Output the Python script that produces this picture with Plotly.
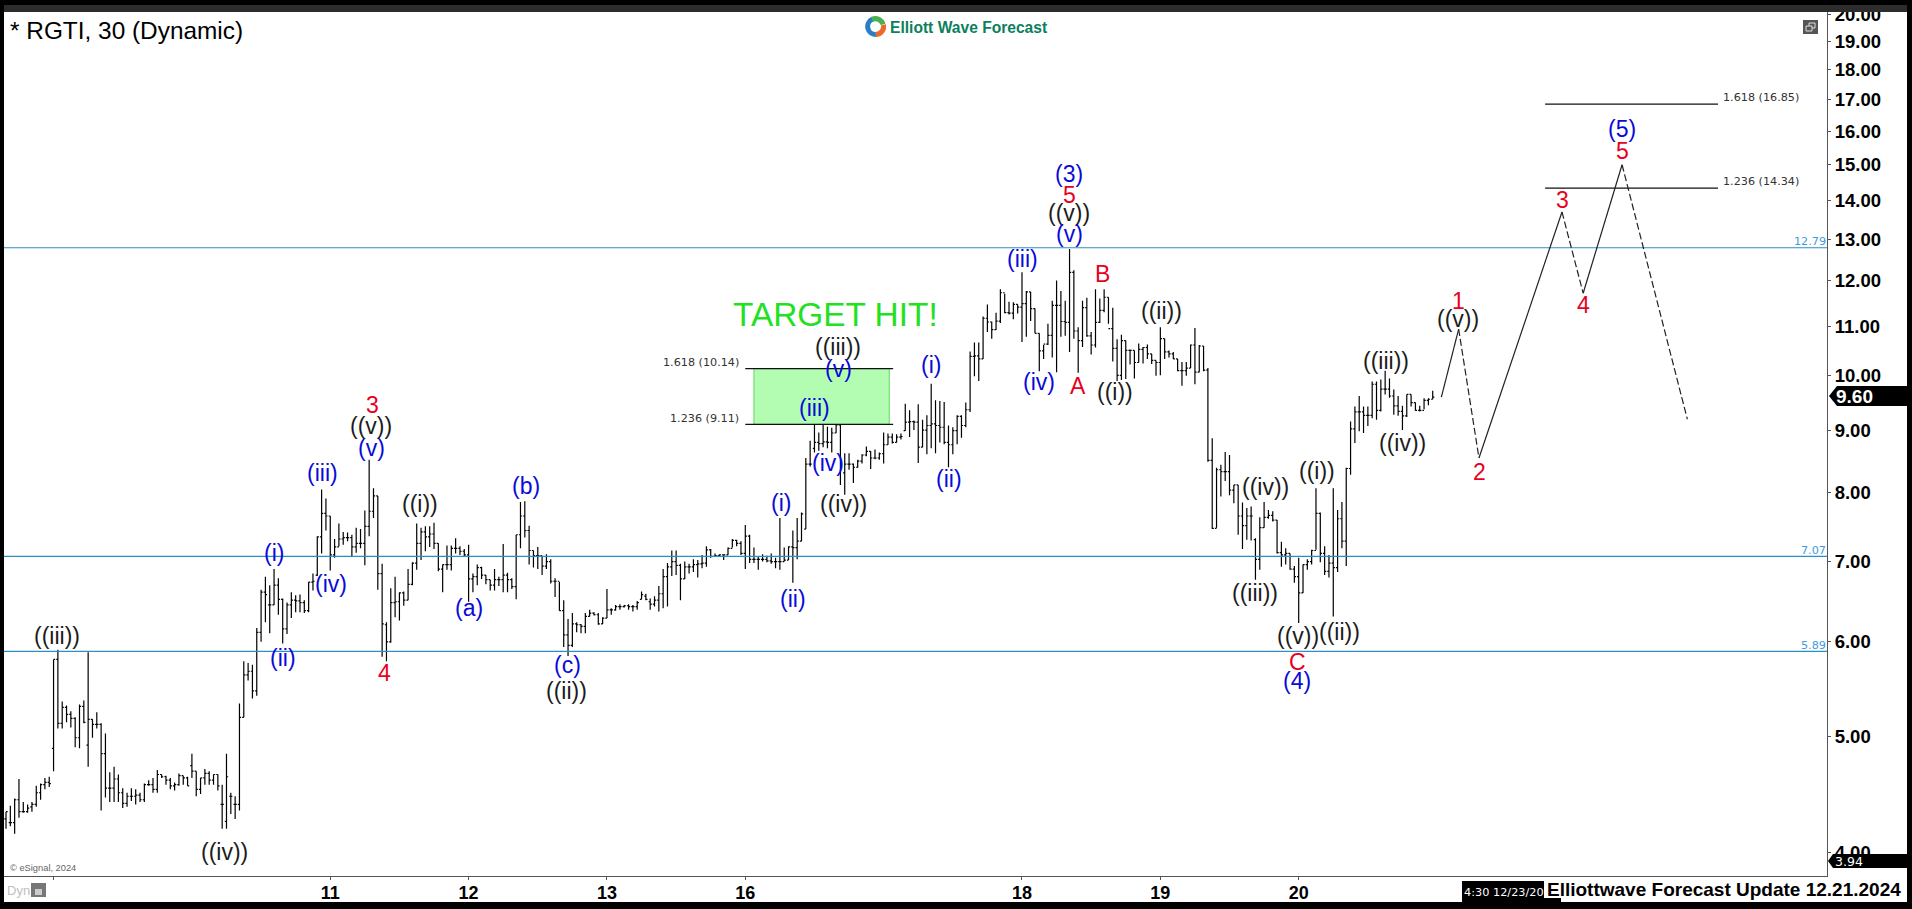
import base64
import plotly.graph_objects as go

# ---------- price bars (30 minute bars) ----------
bar_open = [
4.27,4.24,4.24,4.43,4.33,4.33,4.37,4.39,4.49,4.56,
4.58,4.89,5.80,5.13,5.29,5.22,5.18,4.99,5.30,4.92,
5.17,5.12,5.12,4.84,4.53,4.53,4.61,4.49,4.40,4.46,
4.46,4.47,4.43,4.56,4.56,4.52,4.65,4.63,4.60,4.55,
4.56,4.64,4.62,4.73,4.68,4.52,4.62,4.66,4.60,4.65,
4.39,4.25,4.46,4.39,4.39,5.19,5.63,5.67,5.46,
6.11,6.60,6.44,6.44,6.69,6.51,6.15,6.44,6.50,6.49,
6.47,6.37,6.73,6.82,7.34,7.68,7.64,7.09,7.20,7.31,
7.33,7.33,7.20,7.25,7.25,7.49,7.71,7.94,6.84,6.20,
6.00,6.47,6.48,6.59,6.50,6.70,6.98,7.25,7.41,7.34,
7.38,7.25,6.90,6.96,6.96,7.18,7.18,7.14,7.09,6.77,
6.80,6.92,6.82,6.76,6.69,6.76,6.76,6.82,6.76,6.67,
7.37,7.64,7.43,7.15,7.08,7.08,6.94,7.00,6.74,6.74,
6.37,6.08,5.96,6.21,
6.20,6.18,6.30,6.34,6.32,6.21,6.28,6.38,6.38,6.42,6.42,6.43,6.42,6.42,
6.51,6.55,6.48,6.45,6.50,6.58,6.80,6.93,7.00,6.95,
6.77,6.93,6.93,6.96,6.97,6.98,7.16,7.07,7.08,7.09,
7.09,7.18,7.29,7.25,7.11,7.35,7.03,7.03,7.03,7.03,
7.01,7.00,7.00,7.00,7.02,7.20,7.19,7.28,7.45,8.44,
8.70,8.80,8.78,8.81,8.80,8.96,9.10,8.30,8.44,8.44,
8.39,8.49,8.59,8.65,8.54,8.54,8.61,8.76,8.89,8.80,8.89,
9.00,9.15,9.16,9.15,8.72,9.01,9.09,9.12,9.09,9.06,
8.80,8.76,9.00,9.25,9.09,9.37,10.38,10.39,10.33,11.17,
11.09,10.93,11.11,11.73,11.29,11.28,11.47,11.41,11.49,11.75,
11.38,10.85,10.49,10.63,10.81,11.45,11.45,11.10,11.08,12.20,
10.90,10.70,11.40,10.80,10.61,11.08,11.34,11.63,10.95,10.54,
10.01,10.70,10.50,10.50,10.26,10.52,10.56,10.43,10.30,10.26,
10.74,10.47,10.43,10.33,10.10,10.10,10.15,10.61,10.07,10.59,10.11,
8.50,7.46,8.35,8.32,8.32,8.03,8.11,7.64,7.50,7.64,
7.30,7.03,7.47,7.62,7.65,7.58,7.12,7.09,7.11,6.90,
6.80,6.59,6.96,7.00,7.15,7.68,7.11,6.87,6.98,6.92,
7.60,7.28,8.37,9.03,9.33,9.33,9.27,9.27,9.84,9.36,
9.75,9.75,9.62,9.44,9.34,9.26,9.65,9.50,9.36,9.36,9.54,9.56,
]
bar_high = [
4.33,4.38,4.44,4.61,4.41,4.39,4.41,4.55,4.57,4.62,
4.63,5.80,5.91,5.35,5.31,5.25,5.19,5.32,5.36,5.88,
5.17,5.24,5.13,5.03,4.67,4.72,4.65,4.53,4.49,4.53,
4.52,4.49,4.57,4.60,4.62,4.69,4.65,4.64,4.62,4.58,
4.66,4.64,4.63,4.84,4.68,4.62,4.70,4.68,4.65,4.65,
4.56,4.84,4.49,4.46,5.33,5.78,5.76,5.74,6.16,
6.63,6.80,6.69,6.90,6.78,6.52,6.47,6.60,6.56,6.57,
6.50,6.73,6.84,7.35,8.04,7.90,7.64,7.31,7.53,7.41,
7.40,7.37,7.47,7.45,7.72,8.51,8.06,7.94,6.97,6.23,
6.65,6.80,6.60,6.61,6.90,6.99,7.53,7.47,7.49,7.49,
7.54,7.25,6.96,7.22,7.22,7.32,7.21,7.17,7.23,6.84,
6.96,6.93,6.82,6.76,6.90,6.80,7.24,6.85,6.78,7.37,
7.85,7.86,7.50,7.15,7.20,7.08,7.10,7.03,6.78,6.73,
6.50,6.27,6.34,6.23,
6.21,6.34,6.38,6.35,6.34,6.29,6.64,6.40,6.44,6.45,6.44,6.45,6.44,6.49,
6.61,6.58,6.52,6.55,6.68,6.90,6.98,7.15,7.15,6.97,
7.00,6.97,7.03,7.02,7.09,7.21,7.17,7.11,7.10,7.10,
7.19,7.31,7.30,7.28,7.51,7.37,7.19,7.06,7.10,7.08,
7.11,7.05,7.61,7.19,7.21,7.43,7.61,7.69,8.54,8.83,
9.14,8.97,9.16,9.07,9.05,9.86,9.76,8.62,8.62,8.45,
8.51,8.60,8.73,8.65,8.68,8.63,8.97,8.95,8.95,8.94,8.95,
9.48,9.36,9.18,9.47,9.19,9.27,9.85,9.54,9.53,9.51,
9.09,9.06,9.27,9.27,9.50,10.48,10.66,10.66,11.21,11.47,
11.10,11.29,11.81,11.71,11.53,11.52,11.47,12.20,11.77,11.75,
11.38,10.85,10.61,11.05,11.55,12.01,11.77,11.55,12.76,12.25,
10.98,11.55,11.62,10.88,11.81,11.60,11.81,11.63,11.40,10.73,
10.82,10.70,10.52,10.50,10.64,10.57,10.62,10.43,10.30,10.98,
10.74,10.50,10.47,10.33,10.27,10.27,10.62,10.96,10.61,10.59,10.15,
8.87,8.38,8.43,8.64,8.59,8.11,8.11,7.84,7.76,7.78,
7.32,7.62,7.85,7.73,7.71,7.58,7.27,7.18,7.11,6.94,
7.05,6.96,7.03,7.16,8.06,7.69,7.21,7.09,8.06,7.73,
7.85,8.38,9.16,9.43,9.62,9.43,9.43,9.89,9.89,9.93,
10.10,9.95,9.74,9.62,9.44,9.65,9.65,9.50,9.44,9.58,9.58,9.72,
]
bar_low = [
4.19,4.21,4.15,4.28,4.32,4.32,4.33,4.37,4.43,4.52,
4.54,4.68,5.08,5.08,5.14,5.09,4.90,4.89,5.13,4.72,
4.99,5.08,4.34,4.45,4.41,4.41,4.41,4.36,4.37,4.42,
4.39,4.41,4.41,4.55,4.49,4.49,4.62,4.56,4.52,4.51,
4.55,4.56,4.55,4.62,4.46,4.48,4.56,4.56,4.56,4.51,
4.19,4.19,4.31,4.27,4.34,5.19,5.57,5.38,5.41,
6.00,6.23,6.10,6.44,6.32,5.98,6.09,6.28,6.35,6.35,
6.34,6.35,6.62,6.81,7.11,7.43,6.88,7.05,7.21,7.23,
7.28,7.06,7.12,7.18,6.95,7.35,7.61,6.63,5.83,5.78,
5.99,6.29,6.25,6.43,6.50,6.69,6.89,7.02,7.14,7.20,
7.17,6.87,6.60,6.89,6.88,7.11,7.09,7.06,6.48,6.60,
6.69,6.77,6.70,6.62,6.62,6.68,6.60,6.60,6.64,6.51,
7.18,7.33,6.96,6.92,6.90,6.82,6.90,6.71,6.54,6.37,
5.94,5.84,5.94,6.11,
6.10,6.10,6.30,6.31,6.20,6.21,6.28,6.32,6.37,6.38,6.41,6.38,6.36,6.38,
6.51,6.50,6.38,6.42,6.36,6.40,6.42,6.81,6.82,6.50,
6.77,6.84,6.86,6.79,6.91,6.93,7.05,7.06,7.07,7.02,
7.09,7.19,7.21,7.09,6.90,6.98,6.98,6.89,7.00,6.99,
6.97,6.91,6.89,7.00,7.02,6.72,7.03,7.28,7.45,8.40,
8.63,8.66,8.72,8.70,8.63,8.96,8.11,7.96,8.35,8.14,
8.38,8.45,8.57,8.36,8.52,8.51,8.45,8.76,8.78,8.80,8.85,
9.00,8.89,9.01,8.46,8.72,8.60,8.70,8.62,8.80,8.77,
8.39,8.60,8.77,8.88,9.06,9.33,9.99,9.90,10.33,10.88,
10.74,10.92,11.07,11.28,11.25,11.15,11.27,10.67,10.78,11.11,
10.85,10.09,10.33,10.61,10.36,10.07,10.78,10.80,10.47,10.74,
10.06,10.57,10.78,10.42,10.56,11.07,11.30,11.05,10.28,9.90,
9.92,9.94,10.22,9.95,10.26,10.24,10.33,10.23,10.00,10.01,
10.33,10.36,10.33,10.09,9.81,10.00,10.15,9.84,10.07,10.09,8.48,
7.45,7.47,7.93,8.17,7.95,7.83,7.37,7.17,7.30,7.29,
6.76,6.89,7.47,7.60,7.56,7.11,6.93,6.96,6.89,6.72,
6.22,6.59,6.89,6.96,7.16,6.99,6.82,6.79,6.30,6.86,
7.18,6.94,8.27,8.79,8.99,8.96,9.08,9.22,9.19,9.34,
9.65,9.59,9.28,9.26,9.01,9.24,9.43,9.35,9.34,9.38,9.45,9.56,
]
bar_close = [
4.33,4.24,4.43,4.33,4.33,4.36,4.39,4.49,4.56,4.58,
4.57,5.80,5.13,5.29,5.22,5.18,4.99,5.30,5.14,5.17,
5.12,5.12,4.84,4.53,4.53,4.61,4.49,4.40,4.46,4.46,
4.47,4.43,4.56,4.56,4.52,4.65,4.63,4.60,4.55,4.56,
4.64,4.62,4.55,4.68,4.52,4.62,4.66,4.60,4.65,4.55,
4.39,4.63,4.46,4.39,5.19,5.63,5.67,5.46,6.11,
6.60,6.57,6.44,6.69,6.51,6.15,6.44,6.50,6.49,6.47,
6.37,6.73,6.74,7.34,7.68,7.64,7.09,7.20,7.31,7.33,
7.33,7.20,7.25,7.25,7.49,7.71,7.94,6.84,6.21,6.00,
6.47,6.48,6.59,6.50,6.70,6.98,7.25,7.41,7.34,7.38,
7.25,6.90,6.96,6.96,7.18,7.18,7.14,7.09,6.77,6.80,
6.92,6.82,6.76,6.69,6.76,6.76,6.82,6.76,6.67,7.37,
7.64,7.43,7.15,7.08,7.08,6.94,7.00,6.74,6.74,6.37,
6.08,5.96,6.21,6.20,
6.18,6.30,6.34,6.32,6.21,6.28,6.38,6.38,6.42,6.42,6.43,6.42,6.42,6.47,
6.57,6.51,6.45,6.50,6.58,6.80,6.93,7.00,6.95,6.77,
6.93,6.93,6.96,6.97,6.98,7.16,7.07,7.08,7.09,7.09,
7.18,7.29,7.25,7.11,7.35,7.03,7.03,7.03,7.03,7.01,
7.00,7.00,7.00,7.02,7.20,7.19,7.28,7.67,8.44,8.44,
8.80,8.78,8.81,8.80,8.96,9.10,8.40,8.44,8.44,8.39,
8.49,8.59,8.65,8.54,8.54,8.61,8.76,8.89,8.80,8.89,8.90,
9.15,9.16,9.15,8.72,9.01,9.09,9.12,9.09,9.06,8.80,
8.76,9.00,9.25,9.09,9.37,10.38,10.39,10.33,11.17,11.09,
10.93,11.11,11.73,11.29,11.28,11.47,11.41,11.49,11.75,11.38,
10.85,10.49,10.63,10.81,11.45,11.45,11.10,11.08,12.20,10.90,
10.70,11.40,10.80,10.61,11.08,11.34,11.63,10.95,10.54,10.01,
10.70,10.50,10.50,10.26,10.52,10.56,10.43,10.30,10.26,10.74,
10.47,10.43,10.33,10.10,10.10,10.15,10.61,10.07,10.59,10.11,8.50,
7.46,8.35,8.32,8.32,8.03,8.11,7.64,7.50,7.64,7.64,
7.03,7.47,7.62,7.65,7.58,7.12,7.09,7.11,6.90,6.80,
6.59,6.96,7.00,7.15,7.68,7.11,6.87,6.98,6.92,7.60,
7.28,8.37,9.03,9.33,9.33,9.27,9.27,9.84,9.36,9.75,
9.75,9.62,9.44,9.34,9.26,9.65,9.50,9.36,9.36,9.54,9.56,9.60,
]
assert len(bar_open) == len(bar_high) == len(bar_low) == len(bar_close) == 331
bar_index = list(range(1, len(bar_open) + 1))

# ---------- levels and projections ----------
level_prices = [12.79, 7.07, 5.89]
level_labels = ["12.79", "7.07", "5.89"]
fib_box_low, fib_box_high = 9.11, 10.14
fib_future = [14.34, 16.85]
wave_x = [333, 337, 341.7, 360.9, 365.8, 374.8, 389.9]
wave_y = [9.60, 10.94, 8.54, 13.70, 11.72, 15.00, 9.20]

day_ticks = [12, 76, 108, 140, 172, 236, 268, 300]
day_labels = ["", "11", "12", "13", "16", "18", "19", "20"]
price_ticks = [4, 5, 6, 7, 8, 9, 10, 11, 12, 13, 14, 15, 16, 17, 18, 19, 20]
price_labels = [f"{p}.00" for p in price_ticks]

BLACK, BLUE, RED = "#1c1c1c", "#0a0ad8", "#e8001c"
wave_labels = [
    ("((iii))", 57, 636, BLACK), ("((iv))", 224, 852, BLACK), ("(i)", 274, 553, BLUE),
    ("(ii)", 283, 658, BLUE), ("(iii)", 322, 473, BLUE), ("(iv)", 331, 584, BLUE),
    ("(v)", 371, 448, BLUE), ("((v))", 371, 426, BLACK), ("3", 372, 405, RED),
    ("4", 384, 673, RED), ("((i))", 420, 504, BLACK), ("(a)", 469, 608, BLUE),
    ("(b)", 526, 486, BLUE), ("(c)", 567, 665, BLUE), ("((ii))", 566, 691, BLACK),
    ("(i)", 781, 503, BLUE), ("(ii)", 793, 599, BLUE), ("((iii))", 838, 347, BLACK),
    ("(v)", 838, 369, BLUE), ("(iii)", 814, 408, BLUE), ("(iv)", 828, 463, BLUE),
    ("((iv))", 843, 504, BLACK), ("(i)", 931, 365, BLUE), ("(ii)", 949, 479, BLUE),
    ("(iii)", 1022, 259, BLUE), ("(iv)", 1039, 382, BLUE), ("(3)", 1069, 174, BLUE),
    ("5", 1069, 195, RED), ("((v))", 1069, 213, BLACK), ("(v)", 1069, 234, BLUE),
    ("B", 1102, 274, RED), ("A", 1078, 386, RED), ("((i))", 1115, 392, BLACK),
    ("((ii))", 1161, 311, BLACK), ("((iv))", 1265, 487, BLACK), ("((iii))", 1255, 593, BLACK),
    ("((v))", 1298, 636, BLACK), ("C", 1297, 662, RED), ("(4)", 1297, 681, BLUE),
    ("((ii))", 1339, 632, BLACK), ("((i))", 1317, 471, BLACK), ("((iii))", 1386, 361, BLACK),
    ("((iv))", 1402, 443, BLACK), ("1", 1458, 301, RED), ("((v))", 1458, 319, BLACK),
    ("2", 1479, 472, RED), ("(5)", 1622, 129, BLUE), ("5", 1622, 151, RED),
    ("3", 1562, 200, RED), ("4", 1583, 305, RED),
]

# ---------- page geometry ----------
W, H = 1912, 909
LEFT, RIGHT, TOP, BOTTOM = 4, 1827, 12, 876
PW, PH = RIGHT - LEFT, BOTTOM - TOP
px = lambda x: (x - LEFT) / PW
py = lambda y: (BOTTOM - y) / PH
ARIAL = "Liberation Sans"
SMALL = "DejaVu Sans"

fig = go.Figure()

# fib box and lines
fig.add_trace(go.Scatter(x=[174, 174, 205.3, 205.3, 174],
                         y=[fib_box_low, fib_box_high, fib_box_high, fib_box_low, fib_box_low],
                         mode="lines", fill="toself", fillcolor="#b2fdb2",
                         line=dict(color="#63d863", width=1), hoverinfo="skip"))
for p in (fib_box_low, fib_box_high):
    fig.add_trace(go.Scatter(x=[172, 206.2], y=[p, p], mode="lines", hoverinfo="skip",
                             line=dict(color="#111111", width=1.2)))
for p in fib_future:
    fig.add_trace(go.Scatter(x=[357, 397], y=[p, p], mode="lines", hoverinfo="skip",
                             line=dict(color="#111111", width=1.2)))
# horizontal levels
for p in level_prices:
    fig.add_trace(go.Scatter(x=[0.5, 422.2], y=[p, p], mode="lines", hoverinfo="skip",
                             line=dict(color="#2b8fc6", width=1.2)))
# the bars
fig.add_trace(go.Ohlc(x=bar_index, open=bar_open, high=bar_high, low=bar_low, close=bar_close,
                      increasing_line_color="#000000", decreasing_line_color="#000000",
                      line_width=1.2, tickwidth=0.38, hoverinfo="skip"))
# forecast path: odd legs solid, even legs dashed
for i in range(len(wave_x) - 1):
    fig.add_trace(go.Scatter(x=wave_x[i:i + 2], y=wave_y[i:i + 2], mode="lines", hoverinfo="skip",
                             line=dict(color="#222222", width=1.2, dash="solid" if i % 2 == 0 else "7px,3px")))

ann = []
def text(t, x, y, size, color, font=ARIAL, xa="center", bold=False):
    ann.append(dict(text=f"<b>{t}</b>" if bold else t, x=px(x), y=py(y), xref="paper", yref="paper",
                    xanchor=xa, yanchor="middle", showarrow=False, borderpad=0,
                    font=dict(family=font, size=size, color=color)))

for t, x, y, c in wave_labels:
    text(t, x, y, 23, c)
text("* RGTI, 30 (Dynamic)", 9, 30, 24.4, "#000000", xa="left")
text("TARGET HIT!", 835, 314, 33.4, "#22e022")
text("1.618 (10.14)", 740, 362, 11.2, "#333333", SMALL, "right")
text("1.236 (9.11)", 740, 418, 11.2, "#333333", SMALL, "right")
text("1.618 (16.85)", 1722, 97, 11.2, "#333333", SMALL, "left")
text("1.236 (14.34)", 1722, 181, 11.2, "#333333", SMALL, "left")
for lab, y in zip(level_labels, (241, 550, 645)):
    text(lab, 1827, y, 11.2, "#3d9be0", SMALL, "right")
text("Elliott Wave Forecast", 889, 27, 15.6, "#0c7f5e", ARIAL, "left", True)
text("© eSignal, 2024", 9, 868, 9.3, "#666666", ARIAL, "left")
text("Dyn", 6, 890, 13, "#c0c0c0", ARIAL, "left")
text("9.60", 1835, 396, 19, "#ffffff", ARIAL, "left", True)
text("3.94", 1834, 861.5, 12.5, "#ffffff", SMALL, "left")
text("4:30 12/23/20", 1463, 892, 11.3, "#ffffff", SMALL, "left")
text("Elliottwave Forecast Update 12.21.2024", 1546, 889, 19, "#000000", ARIAL, "left", True)

def rect(x0, y0, x1, y1, fill, line=None):
    return dict(type="rect", xref="paper", yref="paper", x0=px(x0), x1=px(x1), y0=py(y0), y1=py(y1),
                fillcolor=fill, line=dict(color=line or fill, width=1 if line else 0), layer="above")

def poly(pts, fill):
    d = "M " + " L ".join(f"{px(a)} {py(b)}" for a, b in pts) + " Z"
    return dict(type="path", xref="paper", yref="paper", path=d, fillcolor=fill,
                line=dict(width=0), layer="above")

shapes = [
    rect(0, 0, W, 5, "#000000"), rect(0, 5, W, 12, "#2c2c2c"),
    rect(0, 0, 4, H, "#000000"), rect(0, 902, W, H, "#000000"), rect(1907, 0, W, H, "#000000"),
    poly([(1829, 396), (1837, 386), (1907, 386), (1907, 406), (1837, 406)], "#000000"),
    poly([(1828, 861), (1833, 854), (1907, 854), (1907, 868), (1833, 868)], "#000000"),
    rect(1462, 881, 1544, 902, "#000000"), rect(1544, 898, 1561, 902, "#000000"),
    rect(1803, 20, 1818, 34, "#555555"),
    rect(1809, 23, 1815, 28, "#555555", "#dddddd"), rect(1806, 26, 1812, 31, "#555555", "#dddddd"),
    rect(31, 883, 46, 897, "#777777"), rect(35, 889, 42, 895, "#cccccc"),
]

logo = ('<svg xmlns="http://www.w3.org/2000/svg" viewBox="0 0 100 100" fill="none" stroke-width="24">'
        '<path d="M 36 15 A 38 38 0 0 0 52 88" stroke="#2a7fc4"/>'
        '<path d="M 34 16 A 38 38 0 0 1 86 40" stroke="#4bb04f"/>'
        '<path d="M 88 42 A 38 38 0 0 1 52 88" stroke="#ec6a2c"/></svg>')
logo_uri = "data:image/svg+xml;base64," + base64.b64encode(logo.encode()).decode()

fig.update_layout(
    width=W, height=H, autosize=False, showlegend=False,
    paper_bgcolor="#ffffff", plot_bgcolor="#ffffff",
    margin=dict(l=LEFT, r=W - RIGHT, t=TOP, b=H - BOTTOM, pad=0),
    hovermode=False, annotations=ann, shapes=shapes,
    images=[dict(source=logo_uri, xref="paper", yref="paper", x=px(865), y=py(16),
                 sizex=21 / PW, sizey=21 / PH, xanchor="left", yanchor="top",
                 sizing="stretch", layer="above")],
    xaxis=dict(range=[0.537, 422.2], tickmode="array", tickvals=day_ticks, ticktext=day_labels,
               showgrid=False, zeroline=False, showline=True, linecolor="#555555", linewidth=1,
               ticks="outside", ticklen=3, tickcolor="#555555", ticklabelstandoff=-3,
               tickfont=dict(family=ARIAL, size=18, color="#000000", weight="bold"),
               rangeslider=dict(visible=False), automargin=False),
    yaxis=dict(type="log", range=[0.5828, 1.3035], side="right", tickmode="array",
               tickvals=price_ticks, ticktext=price_labels, showgrid=False, zeroline=False,
               showline=True, linecolor="#555555", linewidth=1, ticks="outside", ticklen=3,
               tickcolor="#555555", automargin=False,
               tickfont=dict(family=ARIAL, size=18.5, color="#000000", weight="bold")),
)

fig.write_html("out.html", config=dict(displayModeBar=False),
               post_script="document.body.style.margin='0';document.body.style.overflow='hidden';")
